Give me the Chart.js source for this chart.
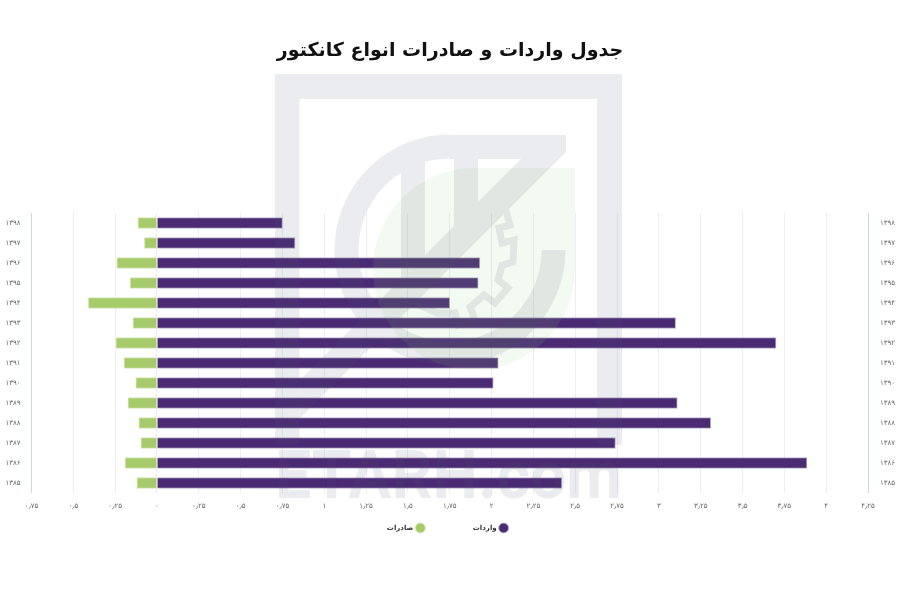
<!DOCTYPE html>
<html lang="fa">
<head>
<meta charset="utf-8">
<title>جدول واردات و صادرات انواع کانکتور</title>
<script src="https://cdn.jsdelivr.net/npm/chart.js@4/dist/chart.umd.min.js"></script>
<style>
  html, body { margin: 0; padding: 0; background: #fff; }
  #wrap { position: relative; width: 900px; height: 600px; overflow: hidden; }
  #chart { position: absolute; left: 0; top: 0; }
  #mark { position: absolute; left: 0; top: 0; pointer-events: none; }
</style>
</head>
<body>
<div id="wrap">
  <canvas id="chart" width="900" height="600"></canvas>
  <svg id="mark" width="900" height="600" viewBox="0 0 900 600">
    <path d="M474 168H575V270A101 101 0 1 1 474 168Z" fill="#8fd17f" fill-opacity=".11"/>
    <g opacity=".115" fill="#4d5a70" stroke="none">
      <path d="M275 445V74H622V445H597V99H299.5V445Z"/>
      <path d="M553.5 250A103.5 103.5 0 1 1 450 146.500" fill="none" stroke="#4d5a70" stroke-width="24"/>
      <path d="M566 135H450V159H521L299.5 380.500V418.500L566 152Z"/>
      <path d="M401 160H425V255L401 279Z"/>
      <path d="M454 159H478V203L454 227Z"/>
      <path d="M505 207L510 225L499 228L502 243L514 240L513 262L502 265L498 280L508 288L495 303L484 295L470 307L475 320L458 325L455 313L437 313L415 303" fill="none" stroke="#4d5a70" stroke-width="7"/>
      <text x="275" y="498" font-family="Roboto" font-weight="700" font-size="66" textLength="347" lengthAdjust="spacingAndGlyphs">ETARH.com</text>
    </g>
  </svg>
</div>
<script>
const categories = ['۱۳۹۸', '۱۳۹۷', '۱۳۹۶', '۱۳۹۵', '۱۳۹۴', '۱۳۹۳', '۱۳۹۲', '۱۳۹۱', '۱۳۹۰', '۱۳۸۹', '۱۳۸۸', '۱۳۸۷', '۱۳۸۶', '۱۳۸۵'];
const imports = [0.75, 0.825, 1.93, 1.92, 1.75, 3.10, 3.70, 2.04, 2.01, 3.11, 3.31, 2.74, 3.885, 2.42];
const exports_ = [-0.114, -0.075, -0.24, -0.16, -0.41, -0.143, -0.245, -0.197, -0.126, -0.173, -0.108, -0.096, -0.19, -0.12];
const xTickLabels = ['۰٫۷۵', '۰٫۵', '۰٫۲۵', '۰', '۰٫۲۵', '۰٫۵', '۰٫۷۵', '۱', '۱٫۲۵', '۱٫۵', '۱٫۷۵', '۲', '۲٫۲۵', '۲٫۵', '۲٫۷۵', '۳', '۳٫۲۵', '۳٫۵', '۳٫۷۵', '۴', '۴٫۲۵'];

const fontName = '"DejaVu Sans", sans-serif';

// the legend needs wide gaps between items but not that much height
const legendShift = {
    id: 'legendShift',
    afterLayout(chart) {
        chart.legend.top = 529 - chart.legend.options.labels.padding - 4.5;
        chart.legend.bottom = chart.height;
        chart.legend.left -= 2;
    }
};

new Chart('chart', {
    type: 'bar',
    data: {
        labels: categories,
        datasets: [{
            label: 'واردات',
            data: imports,
            backgroundColor: '#4a2a72',
            borderColor: '#b9aecb',
            borderWidth: 1,
            barThickness: 11
        }, {
            label: 'صادرات',
            data: exports_,
            backgroundColor: '#a6cb6b',
            borderColor: '#d3e6b5',
            borderWidth: 1,
            barThickness: 11
        }]
    },
    plugins: [legendShift],
    options: {
        indexAxis: 'y',
        responsive: false,
        animation: false,
        layout: { padding: { bottom: 84 } },
        scales: {
            x: {
                stacked: true,
                min: -0.75,
                max: 4.25,
                afterBuildTicks(scale) {
                    scale.ticks = xTickLabels.map((_, i) => ({ value: -0.75 + i * 0.25 }));
                },
                ticks: {
                    autoSkip: false,
                    maxRotation: 0,
                    padding: 9,
                    color: '#666',
                    font: { family: fontName, size: 7 },
                    callback: (v, i) => xTickLabels[i]
                },
                grid: {
                    drawTicks: false,
                    color: ctx => (ctx.index === 0 || ctx.index === xTickLabels.length - 1) ? '#ccd6e6' : '#eceef2'
                },
                border: { display: false },
                afterFit(scale) { scale.height = 22; }
            },
            y: {
                stacked: true,
                ticks: { color: '#666', padding: 3, font: { family: fontName, size: 7 } },
                grid: { display: false },
                border: { display: false },
                afterFit(scale) { scale.width = 31.5; }
            },
            y2: {
                type: 'category',
                position: 'right',
                labels: categories,
                ticks: { color: '#666', padding: 4, font: { family: fontName, size: 7 } },
                grid: { display: false },
                border: { display: false },
                afterFit(scale) { scale.width = 32; }
            }
        },
        plugins: {
            tooltip: { enabled: false },
            title: {
                display: true,
                text: 'جدول واردات و صادرات انواع کانکتور',
                color: '#111',
                font: { family: fontName, size: 19, weight: 'bold' },
                padding: { top: 40, bottom: 150.2 }
            },
            legend: {
                position: 'bottom',
                rtl: true,
                textDirection: 'rtl',
                maxHeight: 1,
                labels: {
                    usePointStyle: true,
                    pointStyle: 'circle',
                    boxHeight: 9,
                    padding: 49,
                    color: '#333',
                    font: { family: fontName, size: 7, weight: 'bold' }
                }
            }
        }
    }
});
</script>
</body>
</html>
